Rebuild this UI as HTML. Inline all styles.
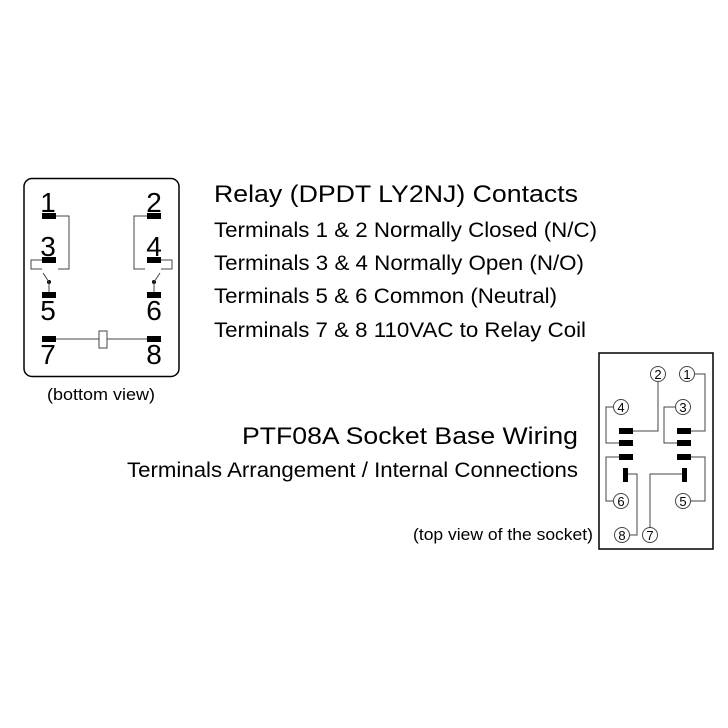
<!DOCTYPE html>
<html><head><meta charset="utf-8"><style>body{margin:0;background:#fff}svg{display:block}</style></head>
<body>
<svg width="728" height="728" viewBox="0 0 728 728" font-family="Liberation Sans, sans-serif">
<rect width="728" height="728" fill="#fff"/>
<rect x="24" y="178.5" width="155" height="198" rx="8" fill="none" stroke="#000" stroke-width="1.5"/>
<g fill="#000">
<rect x="42" y="213" width="14" height="6"/><rect x="147" y="213" width="14" height="6"/>
<rect x="42" y="257" width="14" height="6"/><rect x="147" y="257" width="14" height="6"/>
<rect x="42" y="292" width="14" height="6"/><rect x="147" y="292" width="14" height="6"/>
<rect x="42" y="336" width="14" height="6"/><rect x="147" y="336" width="14" height="6"/>
<circle cx="49" cy="282" r="2"/><circle cx="154" cy="282" r="2"/>
</g>
<g font-size="28" fill="#000" text-anchor="middle">
<text x="48" y="212">1</text><text x="154" y="212">2</text>
<text x="48" y="256">3</text><text x="154" y="256">4</text>
<text x="48" y="320">5</text><text x="154" y="320">6</text>
<text x="48" y="364">7</text><text x="154" y="364">8</text>
</g>
<g fill="none" stroke="#444" stroke-width="1">
<polyline points="56,216 69,216 69,269 58,269"/>
<polyline points="42,260 31,260 31,269 42,269"/>
<polyline points="147,216 134,216 134,269 145,269"/>
<polyline points="161,260 172,260 172,269 161,269"/>
<line x1="49" y1="282" x2="49" y2="292"/><line x1="49" y1="282" x2="43" y2="273"/>
<line x1="154" y1="282" x2="154" y2="292"/><line x1="154" y1="282" x2="160" y2="273"/>
<line x1="56" y1="339" x2="99" y2="339"/><line x1="107" y1="339" x2="147" y2="339"/>
<rect x="99" y="331" width="8" height="17"/>
</g>
<text x="47" y="400" font-size="17" textLength="108" lengthAdjust="spacingAndGlyphs">(bottom view)</text>
<g fill="#000">
<text x="214" y="202" font-size="24" textLength="364" lengthAdjust="spacingAndGlyphs">Relay (DPDT LY2NJ) Contacts</text>
<text x="214" y="237" font-size="21" textLength="383" lengthAdjust="spacingAndGlyphs">Terminals 1 &amp; 2 Normally Closed (N/C)</text>
<text x="214" y="270" font-size="21" textLength="370" lengthAdjust="spacingAndGlyphs">Terminals 3 &amp; 4 Normally Open (N/O)</text>
<text x="214" y="303" font-size="21" textLength="343" lengthAdjust="spacingAndGlyphs">Terminals 5 &amp; 6 Common (Neutral)</text>
<text x="214" y="337" font-size="21" textLength="372" lengthAdjust="spacingAndGlyphs">Terminals 7 &amp; 8 110VAC to Relay Coil</text>
<text x="242" y="444" font-size="24" textLength="336" lengthAdjust="spacingAndGlyphs">PTF08A Socket Base Wiring</text>
<text x="127" y="477" font-size="21" textLength="451" lengthAdjust="spacingAndGlyphs">Terminals Arrangement / Internal Connections</text>
<text x="413" y="540" font-size="17" textLength="180" lengthAdjust="spacingAndGlyphs">(top view of the socket)</text>
</g>
<rect x="599" y="353" width="114" height="196" fill="none" stroke="#000" stroke-width="1.5"/>
<g fill="#000">
<rect x="619" y="428" width="14" height="6"/><rect x="619" y="440" width="14" height="6"/><rect x="619" y="454" width="14" height="6"/>
<rect x="677" y="428" width="14" height="6"/><rect x="677" y="440" width="14" height="6"/><rect x="677" y="454" width="14" height="6"/>
<rect x="623" y="468" width="5" height="14"/><rect x="682" y="468" width="5" height="14"/>
</g>
<g fill="none" stroke="#444" stroke-width="1">
<polyline points="694,374 705,374 705,431 691,431"/>
<polyline points="658,381 658,431 633,431"/>
<polyline points="614,407 606,407 606,443 619,443"/>
<polyline points="676,407 664,407 664,443 677,443"/>
<polyline points="619,457 606,457 606,501 614,501"/>
<polyline points="691,457 705,457 705,501 690,501"/>
<polyline points="628,474 637,474 637,535 629,535"/>
<polyline points="682,474 650,474 650,528"/>
</g>
<g fill="#fff" stroke="#444" stroke-width="1">
<circle cx="658" cy="374" r="7.5"/><circle cx="687" cy="374" r="7.5"/>
<circle cx="621" cy="407" r="7.5"/><circle cx="683" cy="407" r="7.5"/>
<circle cx="621" cy="501" r="7.5"/><circle cx="683" cy="501" r="7.5"/>
<circle cx="622" cy="535" r="7.5"/><circle cx="650" cy="535" r="7.5"/>
</g>
<g font-size="13" fill="#000" text-anchor="middle">
<text x="658" y="379">2</text><text x="687" y="379">1</text>
<text x="621" y="412">4</text><text x="683" y="412">3</text>
<text x="621" y="506">6</text><text x="683" y="506">5</text>
<text x="622" y="540">8</text><text x="650" y="540">7</text>
</g>
</svg>
</body></html>
